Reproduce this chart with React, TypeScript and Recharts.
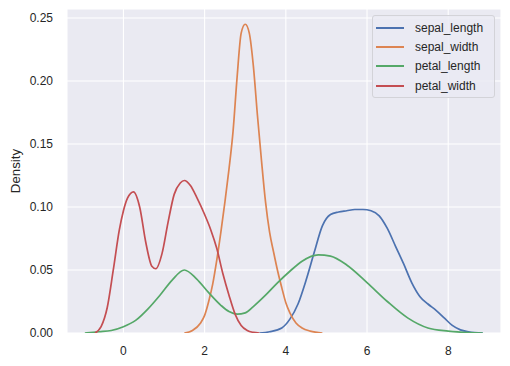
import React from 'react';
import { LineChart, Line, XAxis, YAxis, CartesianGrid } from 'recharts';

// KDE curves (x, density)
const sepalLengthX = [3.35, 3.6, 3.9, 4.1, 4.3, 4.5, 4.7, 4.9, 5.1, 5.3, 5.5, 5.7, 5.9, 6.1, 6.3, 6.5, 6.7, 6.9, 7.1, 7.3, 7.5, 7.7, 7.9, 8.1, 8.3, 8.5, 8.85];
const sepalLengthY = [0, 0.001, 0.004, 0.011, 0.023, 0.042, 0.064, 0.085, 0.094, 0.096, 0.097, 0.098, 0.098, 0.097, 0.093, 0.083, 0.069, 0.055, 0.04, 0.029, 0.023, 0.018, 0.012, 0.006, 0.0025, 0.001, 0];

const sepalWidthX = [1.5, 1.7, 1.9, 2.0, 2.1, 2.2, 2.3, 2.4, 2.5, 2.6, 2.7, 2.8, 2.9, 3.0, 3.1, 3.2, 3.3, 3.4, 3.5, 3.6, 3.7, 3.8, 3.9, 4.0, 4.1, 4.25, 4.4, 4.6, 4.9];
const sepalWidthY = [0, 0.002, 0.008, 0.014, 0.025, 0.039, 0.058, 0.08, 0.104, 0.13, 0.16, 0.203, 0.238, 0.245, 0.238, 0.212, 0.173, 0.137, 0.104, 0.08, 0.064, 0.049, 0.036, 0.024, 0.016, 0.008, 0.004, 0.0015, 0];

const petalLengthX = [-0.95, -0.6, -0.3, 0.0, 0.3, 0.6, 0.9, 1.2, 1.5, 1.8, 2.1, 2.4, 2.6, 2.8, 3.0, 3.2, 3.5, 3.8, 4.1, 4.4, 4.8, 5.1, 5.5, 6.0, 6.5, 7.0, 7.5, 8.0, 8.5, 8.85];
const petalLengthY = [0, 0.001, 0.002, 0.005, 0.01, 0.019, 0.03, 0.042, 0.05, 0.043, 0.032, 0.022, 0.017, 0.015, 0.016, 0.021, 0.03, 0.04, 0.049, 0.057, 0.062, 0.061, 0.054, 0.04, 0.025, 0.012, 0.004, 0.0015, 0.0003, 0];

const petalWidthX = [-0.7, -0.55, -0.4, -0.25, -0.1, 0.0, 0.1, 0.25, 0.4, 0.55, 0.7, 0.8, 0.95, 1.1, 1.25, 1.4, 1.5, 1.65, 1.8, 2.0, 2.15, 2.3, 2.45, 2.6, 2.75, 2.9, 3.05, 3.2, 3.35];
const petalWidthY = [0, 0.005, 0.02, 0.05, 0.082, 0.097, 0.107, 0.112, 0.1, 0.072, 0.053, 0.051, 0.063, 0.088, 0.11, 0.119, 0.121, 0.117, 0.108, 0.094, 0.082, 0.067, 0.047, 0.03, 0.015, 0.006, 0.002, 0.0005, 0];

const xTicks = [0, 2, 4, 6, 8];
const yTicks = [0, 0.05, 0.1, 0.15, 0.2, 0.25];

const toPoints = (xs: number[], ys: number[]) => xs.map((x, i) => ({ x, y: ys[i] }));

const series = [
  { name: 'sepal_length', color: '#4C72B0', data: toPoints(sepalLengthX, sepalLengthY) },
  { name: 'sepal_width', color: '#DD8452', data: toPoints(sepalWidthX, sepalWidthY) },
  { name: 'petal_length', color: '#55A868', data: toPoints(petalLengthX, petalLengthY) },
  { name: 'petal_width', color: '#C44E52', data: toPoints(petalWidthX, petalWidthY) },
];

const font = '"Liberation Sans", Arial, sans-serif';
const textColor = '#262626';

// legend drawn as an overlay so it doesn't eat into the plot area
const LegendBox = () => (
  <div
    style={{
      position: 'absolute',
      left: 372,
      top: 15,
      width: 123,
      background: 'rgba(234,234,242,0.8)',
      border: '1px solid #d3d3d8',
      borderRadius: 3,
      padding: '2px 0 2px 3px',
      fontFamily: font,
      fontSize: 12,
      color: textColor,
      boxSizing: 'border-box',
    }}
  >
    {series.map((s) => (
      <div key={s.name} style={{ display: 'flex', alignItems: 'center', height: 19.3 }}>
        <span style={{ display: 'inline-block', width: 28, height: 2, background: s.color, marginRight: 11 }} />
        <span>{s.name}</span>
      </div>
    ))}
  </div>
);

const DensityLabel = () => (
  <text
    x={15}
    y={171}
    transform="rotate(-90, 15, 171)"
    textAnchor="middle"
    dominantBaseline="central"
    fontSize={13.3}
    fill={textColor}
    fontFamily={font}
  >
    Density
  </text>
);

const App: React.FC = () => {
  return (
    <div style={{ position: 'absolute', left: 0, top: 0, width: 510, height: 366, background: '#fff' }}>
      <LineChart width={510} height={366} margin={{ top: 9, right: 9, left: 0, bottom: 0 }}>
        <CartesianGrid fill="#EAEAF2" stroke="#ffffff" strokeWidth={1.1} />
        <XAxis
          type="number"
          dataKey="x"
          domain={[-1.39, 9.3]}
          ticks={xTicks}
          allowDataOverflow
          axisLine={false}
          tickLine={false}
          tickSize={0}
          tickMargin={13}
          height={33}
          tick={{ fontSize: 12, fill: textColor, fontFamily: font }}
        />
        <YAxis
          type="number"
          dataKey="y"
          domain={[0, 0.2571]}
          ticks={yTicks}
          allowDataOverflow
          axisLine={false}
          tickLine={false}
          tickSize={0}
          tickMargin={14}
          width={67}
          tickFormatter={(v: number) => v.toFixed(2)}
          tick={{ fontSize: 12, fill: textColor, fontFamily: font }}
          label={{ content: () => <DensityLabel /> }}
        />
        {series.map((s) => (
          <Line
            key={s.name}
            data={s.data}
            dataKey="y"
            name={s.name}
            type="monotone"
            stroke={s.color}
            strokeWidth={1.7}
            dot={false}
            activeDot={false}
            isAnimationActive={false}
          />
        ))}
      </LineChart>
      <LegendBox />
    </div>
  );
};

export default App;
